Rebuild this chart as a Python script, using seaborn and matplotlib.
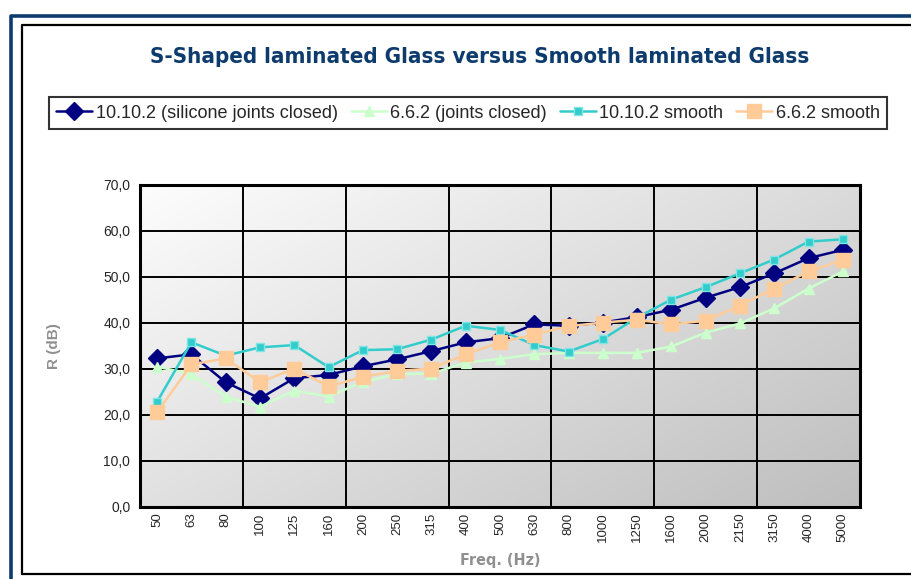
import numpy as np
import pandas as pd
import seaborn as sns
import matplotlib.pyplot as plt
from matplotlib.lines import Line2D
from matplotlib.ticker import FuncFormatter, FixedLocator

freqs = ['50', '63', '80', '100', '125', '160', '200', '250', '315', '400', '500',
         '630', '800', '1000', '1250', '1600', '2000', '2150', '3150', '4000', '5000']

s_10102_sil = [32.3, 33.2, 27.1, 23.6, 28.0, 28.7, 30.6, 32.1, 33.9, 35.8, 36.7,
               39.7, 39.4, 40.1, 41.3, 42.9, 45.5, 47.8, 50.8, 54.1, 55.9]
s_662_closed = [30.5, 28.9, 24.0, 21.8, 25.3, 24.0, 27.2, 28.9, 29.0, 31.4, 32.2,
                33.2, 33.5, 33.5, 33.5, 34.9, 37.9, 39.9, 43.2, 47.5, 51.2]
s_10102_smooth = [22.9, 35.8, 32.9, 34.7, 35.2, 30.4, 34.1, 34.3, 36.4, 39.4, 38.5,
                  35.2, 33.8, 36.5, 41.2, 45.1, 47.8, 50.8, 53.8, 57.7, 58.2]
s_662_smooth = [20.6, 31.0, 32.3, 27.1, 30.1, 26.2, 28.3, 29.6, 30.1, 33.2, 35.8,
                37.5, 39.3, 40.1, 40.7, 39.7, 40.5, 43.8, 47.5, 51.2, 53.7]

names = ['10.10.2 (silicone joints closed)', '6.6.2 (joints closed)',
         '10.10.2 smooth', '6.6.2 smooth']
series = [s_10102_sil, s_662_closed, s_10102_smooth, s_662_smooth]

colors = ['#000080', '#ccffcc', '#33cccc', '#ffcc99']
markers = ['D', '^', 's', 's']
msizes = [9, 7, 6, 10]
medges = ['#000080', '#ccffcc', '#7fe5e5', '#ffcc99']

sns.set_style('white')
plt.rcParams['font.family'] = ['Liberation Sans', 'DejaVu Sans']

fig = plt.figure(figsize=(9.12, 5.79), dpi=100)
ax = fig.add_axes([140 / 912, 72 / 579, 720 / 912, 322 / 579])

# gradient background, white top-left to grey bottom-right
gx, gy = np.meshgrid(np.linspace(0, 1, 200), np.linspace(0, 1, 200))
t = 0.55 * gx + 0.45 * gy
level = (253 - 63 * t) / 255.0
rgb = np.dstack([level, level, level])
ax.imshow(rgb, extent=[0, 1, 0, 1], transform=ax.transAxes,
          aspect='auto', zorder=0, origin='upper')

xpos = np.arange(len(freqs))
for name, vals, c, m, ms, me in zip(names, series, colors, markers, msizes, medges):
    df = pd.DataFrame({'x': xpos, 'y': vals})
    sns.lineplot(data=df, x='x', y='y', ax=ax, color=c, marker=m, markersize=ms,
                 markeredgecolor=me, markeredgewidth=1, linewidth=1.8, label=name,
                 zorder=3)

ax.set_xlim(-0.5, len(freqs) - 0.5)
ax.set_ylim(0, 70)
ax.set_yticks(np.arange(0, 71, 10))
ax.yaxis.set_major_formatter(FuncFormatter(lambda v, p: f'{v:.1f}'.replace('.', ',')))

ax.set_xticks(xpos)
ax.set_xticklabels(freqs, rotation=90, fontsize=9.5)
ax.tick_params(axis='x', which='major', length=0, pad=4)
bounds = np.arange(-0.5, len(freqs), 3)
ax.xaxis.set_minor_locator(FixedLocator(bounds))
ax.tick_params(axis='x', which='minor', length=5, width=1.5, color='black', direction='out')
ax.tick_params(axis='y', length=5, width=1.5, color='black', direction='out',
               labelsize=10, pad=2)

for b in bounds[1:-1]:
    ax.axvline(b, color='black', lw=1.4, zorder=1)
for v in range(10, 70, 10):
    ax.axhline(v, color='black', lw=1.4, zorder=1)

for sp in ax.spines.values():
    sp.set_color('black')
    sp.set_linewidth(2.2)
    sp.set_zorder(4)

ax.set_xlabel('Freq. (Hz)', fontsize=11.5, fontweight='bold', color='#909090',
              family='DejaVu Sans', fontstretch='condensed', labelpad=8)
ax.set_ylabel('R (dB)', fontsize=11, fontweight='bold', color='#909090', labelpad=30)

ax.get_legend().remove()
handles = [Line2D([], [], color=c, marker=m, markersize=ms, markeredgecolor=me, lw=1.8)
           for c, m, ms, me in zip(colors, markers, msizes, medges)]
leg = fig.legend(handles, names, loc='center', bbox_to_anchor=(468 / 912, 1 - 113 / 579),
                 ncol=4, frameon=True, fancybox=False, edgecolor='black',
                 handlelength=2.0, handletextpad=0.2, columnspacing=0.7, borderpad=0.4,
                 prop={'family': 'Liberation Sans', 'size': 13})
leg.get_frame().set_linewidth(1.5)

fig.text(480 / 912, 1 - 57 / 579, 'S-Shaped laminated Glass versus Smooth laminated Glass',
         ha='center', va='center', fontsize=16, fontweight='bold', color='#0d3b6e',
         family='DejaVu Sans', fontstretch='condensed')

# outer frames
fig.add_artist(Line2D([11.5 / 912, 11.5 / 912, 1], [0, 1 - 15.5 / 579, 1 - 15.5 / 579],
                      color='#0d3b6e', lw=2.6))
fig.add_artist(Line2D([22.5 / 912, 22.5 / 912, 1], [1 - 574 / 579, 1 - 24.5 / 579, 1 - 24.5 / 579],
                      color='black', lw=1.6))
fig.add_artist(Line2D([22.5 / 912, 1], [1 - 574 / 579, 1 - 574 / 579], color='black', lw=1.6))

fig.savefig('out.png', dpi=100)
